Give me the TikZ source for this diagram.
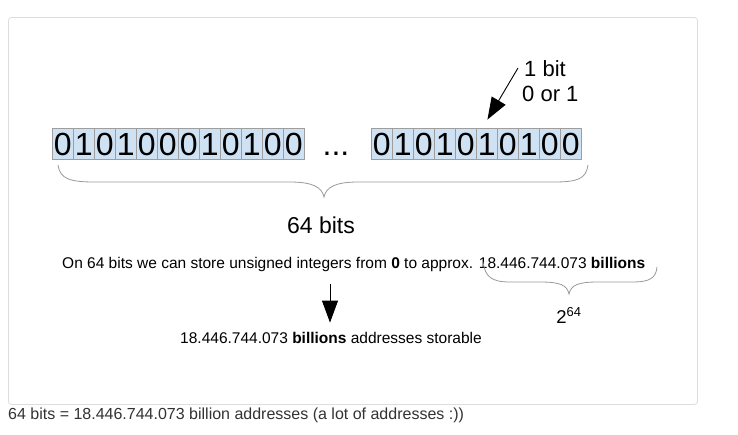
\documentclass[tikz,border=0pt]{standalone}
\usepackage{fontspec}
\setmainfont{Liberation Sans}
\usetikzlibrary{arrows.meta}
\definecolor{cellfill}{HTML}{CFE2F3}
\definecolor{cellline}{HTML}{9E9E9E}
\definecolor{bracecol}{HTML}{9A9A9A}
\definecolor{framecol}{HTML}{DDDDDD}
\definecolor{captioncol}{HTML}{333333}
\begin{document}
\begin{tikzpicture}[x=1pt,y=-1pt,
  bitcell/.style={draw=cellline, fill=cellfill, line width=0.7pt, minimum width=21pt,
    minimum height=31pt, inner sep=0pt, font=\fontsize{32}{32}\selectfont, anchor=west},
  bracepath/.style={draw=bracecol, line width=0.8pt},
  bigarrow/.style={line width=0.9pt, -{Triangle[length=22pt,width=16pt]}},
  txt/.style={inner sep=0pt, font=\fontsize{15.5}{18}\selectfont}]
\useasboundingbox (0,0) rectangle (738,434);
\fill[white] (0,0) rectangle (738,434);
\draw[framecol, line width=0.8pt, rounded corners=3pt] (8.5,17.5) rectangle (697.5,404.5);
% bit cells
\foreach \b [count=\i] in {0,1,0,1,0,0,0,1,0,1,0,0}
  \node[bitcell] (c\i) at ({52+21*(\i-1)},144) {\b};
\foreach \b [count=\i] in {0,1,0,1,0,1,0,1,0,0}
  \node[bitcell] (d\i) at ({371+21*(\i-1)},144) {\b};
\node[inner sep=0pt, anchor=base, font=\fontsize{32}{32}\selectfont] (dots) at (336,155.5) {...};
% 1 bit label
\node[inner sep=0pt, anchor=base west, font=\fontsize{22}{22}\selectfont] (bitA) at (524,76.7) {1 bit};
\node[inner sep=0pt, anchor=base west, font=\fontsize{22}{22}\selectfont] (bitB) at (522,101.7) {0 or 1};
\coordinate (arrstart) at (518,68);
\draw[bigarrow, shorten >=10pt] (arrstart) -- ([xshift=-4.5pt]d6.north);
% top brace
\draw[bracepath] (58,165) .. controls (60,179) and (70,182) .. (95,182)
  -- (290,182) .. controls (312,182) and (322,187) .. (324,197)
  .. controls (326,187) and (336,182) .. (358,182)
  -- (553,182) .. controls (578,182) and (586,179) .. (588,165);
\node[inner sep=0pt, anchor=base, font=\fontsize{23}{23}\selectfont] (bits64) at (321,233) {64 bits};
% main line
\node[txt, anchor=base west] (mainline) at (62,268)
  {On 64 bits we can store unsigned integers from \textbf{0} to approx. 18.446.744.073 \textbf{billions}};
% second brace
\draw[bracepath] (483,262) .. controls (485,277) and (492,282) .. (510,282)
  -- (540,282) .. controls (560,282) and (567,285) .. (569,294)
  .. controls (571,285) and (578,282) .. (598,282)
  -- (632,282) .. controls (650,282) and (656,278) .. (657,267);
\node[inner sep=0pt, anchor=base, font=\fontsize{18.5}{20}\selectfont] (pow) at (569,323) {2\textsuperscript{64}};
% down arrow
\node[txt, anchor=base] (bottomtext) at (331,343) {18.446.744.073 \textbf{billions} addresses storable};
\coordinate (dstart) at (330,284);
\draw[bigarrow, shorten >=9pt] (dstart) -- (bottomtext.north -| dstart);
% caption
\node[inner sep=0pt, anchor=base west, text=captioncol, font=\fontsize{16}{18}\selectfont] (caption) at (8,419)
  {64 bits = 18.446.744.073 billion addresses (a lot of addresses :))};
\end{tikzpicture}
\end{document}
